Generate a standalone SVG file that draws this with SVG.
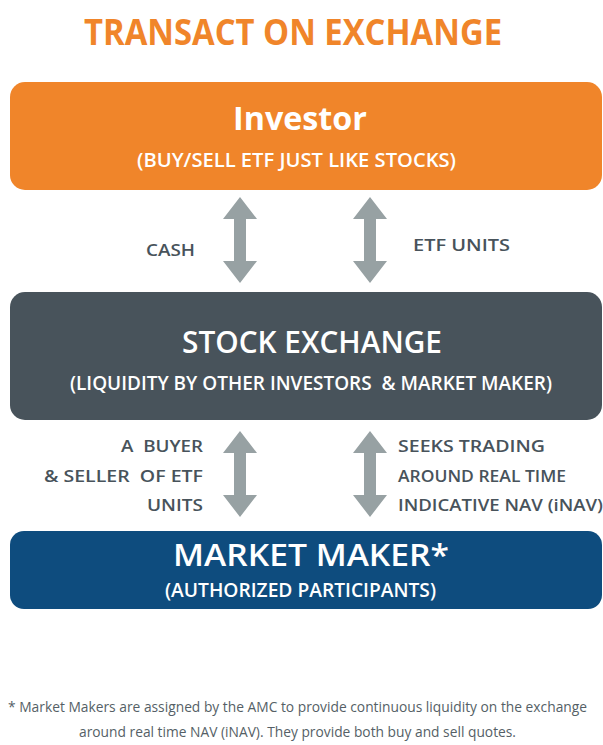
<svg xmlns="http://www.w3.org/2000/svg" width="603" height="745" viewBox="0 0 603 745">
<style>
.b{font-family:"Open Sans","Liberation Sans",sans-serif;font-weight:bold}
.s{font-family:"Open Sans","Liberation Sans",sans-serif;font-weight:600}
.w{fill:#ffffff}
.lab{fill:#48535B;font-size:17px;white-space:pre}
.fn{font-family:"Open Sans","Liberation Sans",sans-serif;fill:#555F66;font-size:14px}
.arr{fill:#97A1A3}
</style>
<defs>
<polygon id="dbl" points="0,0 17,22 6,22 6,64 17,64 0,86 -17,64 -6,64 -6,22 -17,22"/>
</defs>
<rect width="603" height="745" fill="#ffffff"/>
<text class="b" x="293" y="45" font-size="35" fill="#F0852A" text-anchor="middle" textLength="418" lengthAdjust="spacingAndGlyphs">TRANSACT ON EXCHANGE</text>
<g id="investor">
<rect x="10" y="82" width="592" height="108" rx="15" fill="#F0852A"/>
<text class="b w" x="300" y="130" font-size="33" text-anchor="middle" textLength="134" lengthAdjust="spacingAndGlyphs">Investor</text>
<text class="s w" x="296.5" y="167" font-size="19" text-anchor="middle" textLength="319" lengthAdjust="spacingAndGlyphs">(BUY/SELL ETF JUST LIKE STOCKS)</text>
</g>
<g id="exchange">
<rect x="10" y="292" width="592" height="128" rx="15" fill="#48535B"/>
<text class="s w" x="312" y="353" font-size="30" text-anchor="middle" textLength="260" lengthAdjust="spacingAndGlyphs">STOCK EXCHANGE</text>
<text class="s w" x="311" y="390" font-size="19" text-anchor="middle" textLength="482" lengthAdjust="spacingAndGlyphs" style="white-space:pre">(LIQUIDITY BY OTHER INVESTORS  &amp; MARKET MAKER)</text>
</g>
<g id="marketmaker">
<rect x="10" y="531" width="592" height="78" rx="14" fill="#0E4C7E"/>
<text class="s w" x="311" y="566" font-size="30" text-anchor="middle" textLength="276" lengthAdjust="spacingAndGlyphs">MARKET MAKER*</text>
<text class="s w" x="300.5" y="597" font-size="19" text-anchor="middle" textLength="271" lengthAdjust="spacingAndGlyphs">(AUTHORIZED PARTICIPANTS)</text>
</g>
<g id="connectors">
<use href="#dbl" class="arr" x="240" y="197"/>
<use href="#dbl" class="arr" x="370" y="197"/>
<use href="#dbl" class="arr" x="240" y="431"/>
<use href="#dbl" class="arr" x="370" y="431"/>
<text class="s lab" x="146" y="256" textLength="49" lengthAdjust="spacingAndGlyphs">CASH</text>
<text class="s lab" x="413" y="251" textLength="97" lengthAdjust="spacingAndGlyphs">ETF UNITS</text>
<text class="s lab" x="203" y="452" text-anchor="end" textLength="82" lengthAdjust="spacingAndGlyphs">A  BUYER</text>
<text class="s lab" x="203" y="482" text-anchor="end" textLength="159" lengthAdjust="spacingAndGlyphs">&amp; SELLER  OF ETF</text>
<text class="s lab" x="203" y="511" text-anchor="end" textLength="56" lengthAdjust="spacingAndGlyphs">UNITS</text>
<text class="s lab" x="398" y="452" textLength="147" lengthAdjust="spacingAndGlyphs">SEEKS TRADING</text>
<text class="s lab" x="398" y="482" textLength="168" lengthAdjust="spacingAndGlyphs">AROUND REAL TIME</text>
<text class="s lab" x="398" y="511" textLength="205" lengthAdjust="spacingAndGlyphs">INDICATIVE NAV (iNAV)</text>
</g>
<text class="fn" x="8" y="712" textLength="579" lengthAdjust="spacingAndGlyphs">* Market Makers are assigned by the AMC to provide continuous liquidity on the exchange</text>
<text class="fn" x="79" y="737" textLength="437" lengthAdjust="spacingAndGlyphs">around real time NAV (iNAV). They provide both buy and sell quotes.</text>
</svg>
